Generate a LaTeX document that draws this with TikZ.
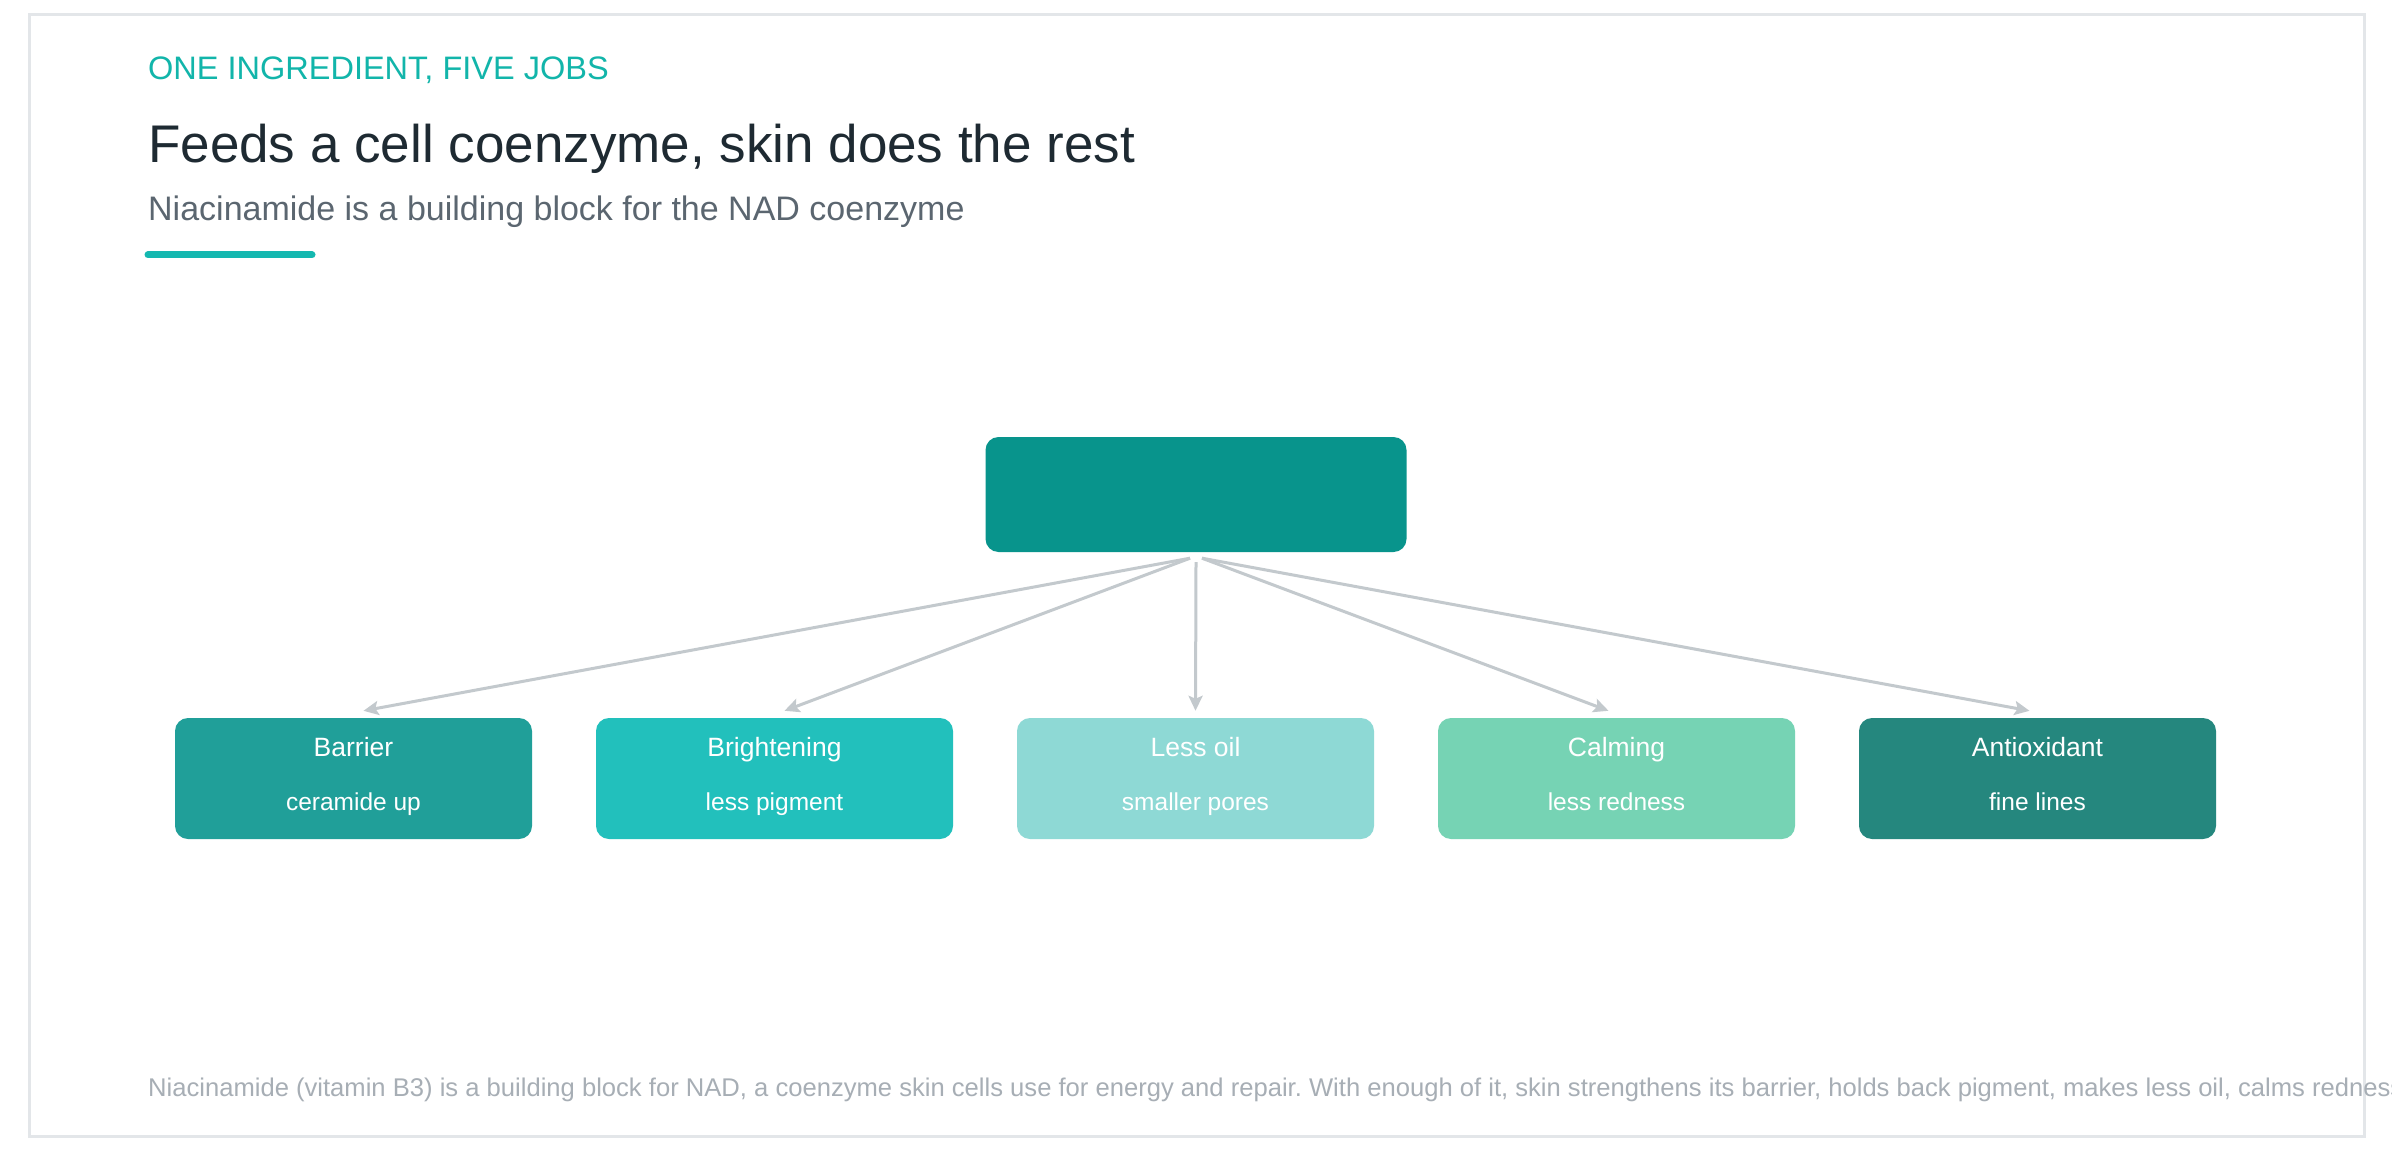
\documentclass[tikz,border=0pt]{standalone}
\usepackage{fontspec}
\setmainfont{Liberation Sans}
\usetikzlibrary{arrows.meta}
\frenchspacing
\definecolor{framec}{HTML}{E3E6E9}
\definecolor{eyebrow}{HTML}{12B5AA}
\definecolor{titlec}{HTML}{1E2A32}
\definecolor{subc}{HTML}{5B6670}
\definecolor{barc}{HTML}{14B8B0}
\definecolor{topc}{HTML}{08948C}
\definecolor{cA}{HTML}{209F99}
\definecolor{cB}{HTML}{22C0BC}
\definecolor{cC}{HTML}{8ED9D5}
\definecolor{cD}{HTML}{76D3B4}
\definecolor{cE}{HTML}{25877E}
\definecolor{arrc}{HTML}{C3C9CD}
\definecolor{footc}{HTML}{A7AEB5}
\tikzset{
  box/.style={minimum width=357pt, minimum height=121pt, rounded corners=13pt, inner sep=0pt, draw=none},
  topbox/.style={minimum width=421pt, minimum height=115pt, rounded corners=13pt, inner sep=0pt, fill=topc},
  boxtitle/.style={anchor=base, text=white, inner sep=0pt, font=\fontsize{26.5}{31}\selectfont},
  boxsub/.style={anchor=base, text=white, inner sep=0pt, font=\fontsize{24.5}{29}\selectfont},
  arr/.style={draw=arrc, line width=3pt, -{Stealth[length=15pt,width=14pt,inset=3pt]}},
  txt/.style={anchor=base west, inner sep=0pt}
}
\begin{document}
\begin{tikzpicture}[x=1pt,y=-1pt]
\useasboundingbox (0,0) rectangle (2392,1150);
\fill[white] (0,0) rectangle (2392,1150);
\draw[framec, line width=3pt] (29,15) rectangle (2364,1136);
\node[txt, text=eyebrow, font=\fontsize{32.5}{38}\selectfont] (eyebrow) at (148,80) {ONE INGREDIENT, FIVE JOBS};
\node[txt, text=titlec, font=\fontsize{53}{62}\selectfont] (title) at (148,163) {Feeds a cell coenzyme, skin does the rest};
\node[txt, text=subc, font=\fontsize{34}{40}\selectfont] (subtitle) at (148,221) {Niacinamide is a building block for the NAD coenzyme};
\coordinate (barL) at (148,255);
\coordinate (barR) at (312,255);
\draw[barc, line width=7pt, line cap=round] (barL) -- (barR);
\node[topbox] (top) at (1196,494.5) {};
\node[box, fill=cA] (b1) at (353.5,778.5) {};
\node[box, fill=cB] (b2) at (774.5,778.5) {};
\node[box, fill=cC] (b3) at (1195.5,778.5) {};
\node[box, fill=cD] (b4) at (1616.5,778.5) {};
\node[box, fill=cE] (b5) at (2037.5,778.5) {};
\node[boxtitle] (t1) at ([yshift=-39pt]b1.north) {Barrier};
\node[boxsub] (s1) at ([yshift=-93pt]b1.north) {ceramide up};
\node[boxtitle] (t2) at ([yshift=-39pt]b2.north) {Brightening};
\node[boxsub] (s2) at ([yshift=-93pt]b2.north) {less pigment};
\node[boxtitle] (t3) at ([yshift=-39pt]b3.north) {Less oil};
\node[boxsub] (s3) at ([yshift=-93pt]b3.north) {smaller pores};
\node[boxtitle] (t4) at ([yshift=-39pt]b4.north) {Calming};
\node[boxsub] (s4) at ([yshift=-93pt]b4.north) {less redness};
\node[boxtitle] (t5) at ([yshift=-39pt]b5.north) {Antioxidant};
\node[boxsub] (s5) at ([yshift=-93pt]b5.north) {fine lines};
\draw[arr] ([xshift=-6pt,yshift=-6pt]top.south) -- ([xshift=10pt,yshift=7pt]b1.north);
\draw[arr] ([xshift=-6pt,yshift=-6pt]top.south) -- ([xshift=10pt,yshift=7pt]b2.north);
\draw[arr] ([xshift=0pt,yshift=-10pt]top.south) -- ([xshift=0pt,yshift=7pt]b3.north);
\draw[arr] ([xshift=6pt,yshift=-6pt]top.south) -- ([xshift=-8pt,yshift=7pt]b4.north);
\draw[arr] ([xshift=6pt,yshift=-6pt]top.south) -- ([xshift=-8pt,yshift=7pt]b5.north);
\begin{scope}
\clip (0,0) rectangle (2392,1150);
\node[txt, text=footc, font=\fontsize{25.6}{30}\selectfont] (foot) at (148,1096) {Niacinamide (vitamin B3) is a building block for NAD, a coenzyme skin cells use for energy and repair. With enough of it, skin strengthens its barrier, holds back pigment, makes less oil, calms redness};
\end{scope}
\end{tikzpicture}
\end{document}
